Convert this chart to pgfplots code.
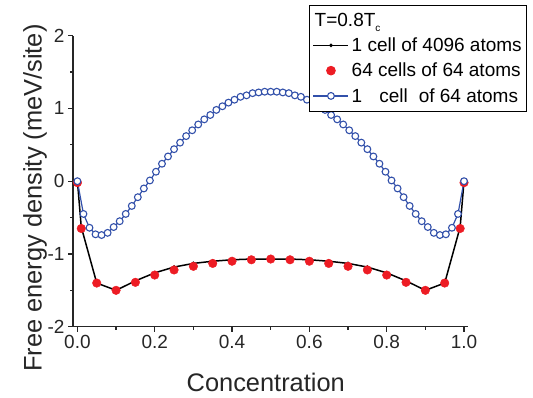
\documentclass[border=0pt]{standalone}
\usepackage{fontspec}
\setmainfont{Liberation Sans}
\usepackage{pgfplots}
\pgfplotsset{compat=1.18}
\definecolor{myred}{RGB}{237,28,36}
\definecolor{myblue}{RGB}{50,80,170}
\pgfplotsset{longlegend/.style={legend image code/.code={\draw[mark repeat=2,mark phase=2,##1] plot coordinates {(0bp,0bp) (17.5bp,0bp) (35bp,0bp)};}}}
\begin{document}
\begin{tikzpicture}
\useasboundingbox (-73bp,-71.3bp) rectangle (460bp,326.7bp);
\begin{axis}[
  scale only axis, width=395bp, height=291bp,
  xmin=-0.0114, xmax=1.0103, ymin=-2, ymax=2,
  clip=false,
  axis x line=bottom, axis y line=left,
  axis line style={-, line width=1.3bp, black!85},
  tick align=outside,
  major tick length=5bp, minor tick length=3bp,
  tick style={line width=1.3bp, black!85},
  xtick={0,0.2,0.4,0.6,0.8,1}, xticklabels={0.0,0.2,0.4,0.6,0.8,1.0},
  minor xtick={0.1,0.3,0.5,0.7,0.9},
  ytick={-2,-1,0,1,2}, yticklabels={-2,-1,0,1,2},
  minor ytick={-1.5,-0.5,0.5,1.5},
  /pgf/number format/assume math mode=true,
  tick label style={font=\fontsize{19bp}{22bp}\selectfont, black!85},
  xlabel={Concentration},
  xlabel style={at={(axis description cs:0.488,-0.192)}, anchor=center, font=\fontsize{25.4bp}{30bp}\selectfont, black!85},
  ylabel={Free energy density (meV/site)},
  ylabel style={at={(axis description cs:-0.096,0.442)}, anchor=center, font=\fontsize{25.4bp}{30bp}\selectfont, black!85},
  legend cell align=left,
  legend style={at={(rel axis cs:0.598,1.1055)}, anchor=north west, draw=black, line width=1bp, fill=white,
    inner xsep=3bp, inner ysep=6bp, row sep=7bp, column sep=1bp,
    font=\fontsize{19bp}{22bp}\selectfont,
    nodes={inner sep=1.5bp}},
]
\addlegendimage{empty legend}
\addlegendentry{\hspace{-37bp}T=0.8T\raisebox{-5bp}{\fontsize{10bp}{10bp}\selectfont c}}

\addplot[black, line width=1.5bp, mark=*, mark size=1bp, mark options={fill=black}, longlegend] coordinates {
(0,0) (0.01,-0.63) (0.05,-1.40) (0.1,-1.50) (0.15,-1.37) (0.2,-1.26) (0.25,-1.18) (0.3,-1.13) (0.35,-1.10) (0.4,-1.08) (0.45,-1.07) (0.5,-1.07) (0.55,-1.07) (0.6,-1.08) (0.65,-1.10) (0.7,-1.13) (0.75,-1.18) (0.8,-1.26) (0.85,-1.37) (0.9,-1.50) (0.95,-1.40) (0.99,-0.63) (1,0)
};
\addlegendentry{1 cell of 4096 atoms}

\addplot[only marks, mark=*, mark size=4.3bp, myred, mark options={draw=none, fill=myred}, longlegend] coordinates {
(0,-0.02) (0.01,-0.65) (0.05,-1.40) (0.1,-1.50) (0.15,-1.39) (0.2,-1.29) (0.25,-1.22) (0.3,-1.17) (0.35,-1.13) (0.4,-1.10) (0.45,-1.08) (0.5,-1.07) (0.55,-1.08) (0.6,-1.10) (0.65,-1.13) (0.7,-1.17) (0.75,-1.22) (0.8,-1.29) (0.85,-1.39) (0.9,-1.50) (0.95,-1.40) (0.99,-0.65) (1,-0.02)
};
\addlegendentry{64 cells of 64 atoms}

\addplot[myblue, line width=1.2bp, mark=*, mark size=3.4bp, mark options={draw=myblue, fill=white, line width=1.1bp}, longlegend] coordinates {
(0.000000,0) (0.015625,-0.45) (0.031250,-0.64) (0.046875,-0.73) (0.062500,-0.74) (0.078125,-0.71) (0.093750,-0.63) (0.109375,-0.55) (0.125000,-0.45) (0.140625,-0.34) (0.156250,-0.22) (0.171875,-0.10) (0.187500,0.01) (0.203125,0.13) (0.218750,0.24) (0.234375,0.34) (0.250000,0.44) (0.265625,0.53) (0.281250,0.62) (0.296875,0.70) (0.312500,0.78) (0.328125,0.85) (0.343750,0.91) (0.359375,0.98) (0.375000,1.03) (0.390625,1.08) (0.406250,1.12) (0.421875,1.16) (0.437500,1.18) (0.453125,1.21) (0.468750,1.22) (0.484375,1.23) (0.500000,1.23)
(0.515625,1.23) (0.531250,1.22) (0.546875,1.21) (0.562500,1.18) (0.578125,1.16) (0.593750,1.12) (0.609375,1.08) (0.625000,1.03) (0.640625,0.98) (0.656250,0.91) (0.671875,0.85) (0.687500,0.78) (0.703125,0.70) (0.718750,0.62) (0.734375,0.53) (0.750000,0.44) (0.765625,0.34) (0.781250,0.24) (0.796875,0.13) (0.812500,0.01) (0.828125,-0.10) (0.843750,-0.22) (0.859375,-0.34) (0.875000,-0.45) (0.890625,-0.55) (0.906250,-0.63) (0.921875,-0.71) (0.937500,-0.74) (0.953125,-0.73) (0.968750,-0.64) (0.984375,-0.45) (1.000000,0)
};
\addlegendentry{1\hspace{17bp}cell\hspace{11bp}of 64 atoms}
\end{axis}
\end{tikzpicture}
\end{document}
